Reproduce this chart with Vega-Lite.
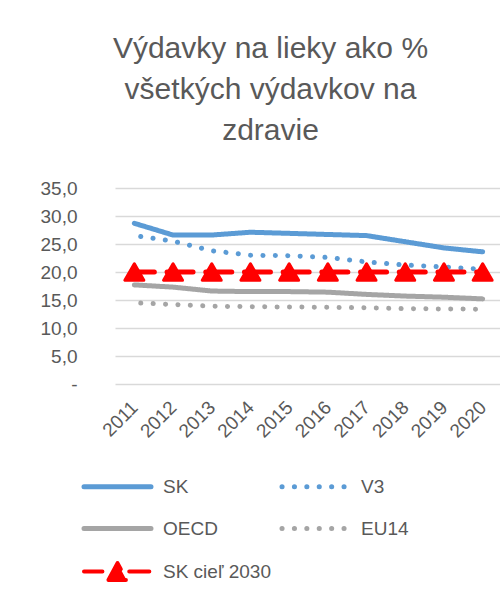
{
  "$schema": "https://vega.github.io/schema/vega-lite/v6.json",
  "width": 387,
  "height": 196,
  "autosize": {"type": "none"},
  "padding": {"left": 115, "top": 188, "right": 0, "bottom": 216},
  "background": "white",
  "config": {"font": "Liberation Sans", "view": {"stroke": null}},
  "title": {
    "text": ["Výdavky na lieky ako %", "všetkých výdavkov na", "zdravie"],
    "fontSize": 30,
    "font": "Liberation Sans",
    "fontWeight": "normal",
    "color": "#595959",
    "lineHeight": 41,
    "anchor": "middle",
    "dx": -38,
    "offset": 33
  },
  "data": {
    "values": [
      {"year": "2011", "series": "SK", "value": 28.7},
      {"year": "2012", "series": "SK", "value": 26.6},
      {"year": "2013", "series": "SK", "value": 26.6},
      {"year": "2014", "series": "SK", "value": 27.1},
      {"year": "2015", "series": "SK", "value": 26.9},
      {"year": "2016", "series": "SK", "value": 26.7},
      {"year": "2017", "series": "SK", "value": 26.5},
      {"year": "2018", "series": "SK", "value": 25.4},
      {"year": "2019", "series": "SK", "value": 24.3},
      {"year": "2020", "series": "SK", "value": 23.6},
      {"year": "2011", "series": "V3", "value": 26.5},
      {"year": "2012", "series": "V3", "value": 25.5},
      {"year": "2013", "series": "V3", "value": 23.8},
      {"year": "2014", "series": "V3", "value": 23.0},
      {"year": "2015", "series": "V3", "value": 22.9},
      {"year": "2016", "series": "V3", "value": 22.6},
      {"year": "2017", "series": "V3", "value": 21.8},
      {"year": "2018", "series": "V3", "value": 21.25},
      {"year": "2019", "series": "V3", "value": 20.9},
      {"year": "2020", "series": "V3", "value": 20.5},
      {"year": "2011", "series": "OECD", "value": 17.7},
      {"year": "2012", "series": "OECD", "value": 17.3},
      {"year": "2013", "series": "OECD", "value": 16.6},
      {"year": "2014", "series": "OECD", "value": 16.5},
      {"year": "2015", "series": "OECD", "value": 16.5},
      {"year": "2016", "series": "OECD", "value": 16.4},
      {"year": "2017", "series": "OECD", "value": 16.0},
      {"year": "2018", "series": "OECD", "value": 15.7},
      {"year": "2019", "series": "OECD", "value": 15.5},
      {"year": "2020", "series": "OECD", "value": 15.2},
      {"year": "2011", "series": "EU14", "value": 14.5},
      {"year": "2012", "series": "EU14", "value": 14.2},
      {"year": "2013", "series": "EU14", "value": 13.9},
      {"year": "2014", "series": "EU14", "value": 13.8},
      {"year": "2015", "series": "EU14", "value": 13.75},
      {"year": "2016", "series": "EU14", "value": 13.7},
      {"year": "2017", "series": "EU14", "value": 13.6},
      {"year": "2018", "series": "EU14", "value": 13.45},
      {"year": "2019", "series": "EU14", "value": 13.4},
      {"year": "2020", "series": "EU14", "value": 13.35},
      {"year": "2011", "series": "SK cieľ 2030", "value": 20},
      {"year": "2012", "series": "SK cieľ 2030", "value": 20},
      {"year": "2013", "series": "SK cieľ 2030", "value": 20},
      {"year": "2014", "series": "SK cieľ 2030", "value": 20},
      {"year": "2015", "series": "SK cieľ 2030", "value": 20},
      {"year": "2016", "series": "SK cieľ 2030", "value": 20},
      {"year": "2017", "series": "SK cieľ 2030", "value": 20},
      {"year": "2018", "series": "SK cieľ 2030", "value": 20},
      {"year": "2019", "series": "SK cieľ 2030", "value": 20},
      {"year": "2020", "series": "SK cieľ 2030", "value": 20}
    ]
  },
  "encoding": {
    "x": {
      "field": "year", "type": "ordinal",
      "scale": {"type": "point", "padding": 0.5},
      "axis": {
        "title": null, "labelAngle": -45, "labelAlign": "right", "labelBaseline": "middle",
        "labelFontSize": 19, "labelColor": "#595959", "labelFont": "Liberation Sans",
        "domain": false, "ticks": false, "grid": false, "labelPadding": 20
      }
    },
    "y": {
      "field": "value", "type": "quantitative",
      "scale": {"domain": [0, 35]},
      "axis": {
        "title": null, "values": [0, 5, 10, 15, 20, 25, 30, 35], "labelOverlap": false,
        "labelExpr": "datum.value == 0 ? '-\u00a0\u00a0\u00a0' : replace(format(datum.value, '.1f'), '.', ',')",
        "labelFontSize": 19, "labelColor": "#595959", "labelFont": "Liberation Sans",
        "domain": false, "ticks": false, "labelPadding": 38,
        "gridColor": "#d9d9d9", "gridWidth": 1.5
      }
    }
  },
  "layer": [
    {
      "mark": {"type": "line", "strokeCap": "round", "strokeJoin": "round", "strokeWidth": 5, "strokeDashOffset": 6},
      "encoding": {
        "color": {
          "field": "series", "type": "nominal",
          "scale": {
            "domain": ["SK", "V3", "OECD", "EU14", "SK cieľ 2030"],
            "range": ["#5b9bd5", "#5b9bd5", "#a5a5a5", "#a5a5a5", "#ff0000"]
          },
          "legend": {
            "title": null, "orient": "none", "legendX": -7, "legendY": 289,
            "direction": "horizontal",
            "columns": 2, "columnPadding": 8, "rowPadding": 22, "padding": 0,
            "symbolType": "stroke", "symbolSize": 4489, "symbolStrokeWidth": 5,
            "labelFontSize": 19, "labelFont": "Liberation Sans", "labelColor": "#595959",
            "labelOffset": 36, "labelLimit": 300,
            "encode": {
              "symbols": {
                "update": {
                  "shape": {"signal": "datum.value === 'SK cieľ 2030' ? 'M-1,0L-0.45,0M0.35,0L0.95,0M-0.27,0.25L0,-0.25L0.27,0.25Z' : 'stroke'"},
                  "fill": {"signal": "datum.value === 'SK cieľ 2030' ? '#ff0000' : 'transparent'"},
                  "strokeDash": {"signal": "datum.value === 'V3' || datum.value === 'EU14' ? [0.1, 12.4] : [1, 0]"},
                  "strokeCap": {"value": "round"},
                  "strokeJoin": {"value": "round"},
                  "strokeWidth": {"signal": "datum.value === 'SK cieľ 2030' ? 4 : 5"}
                }
              }
            }
          }
        },
        "strokeDash": {
          "field": "series", "type": "nominal",
          "scale": {
            "domain": ["SK", "V3", "OECD", "EU14", "SK cieľ 2030"],
            "range": [[1, 0], [0.1, 12.3], [1, 0], [0.1, 12.3], [26, 12.7]]
          },
          "legend": null
        }
      }
    },
    {
      "transform": [{"filter": "datum.series === 'SK cieľ 2030'"}],
      "mark": {
        "type": "point", "shape": "triangle-up", "filled": true, "color": "#ff0000",
        "stroke": "#ff0000", "strokeWidth": 3, "strokeJoin": "round", "size": 360, "opacity": 1
      }
    }
  ]
}
